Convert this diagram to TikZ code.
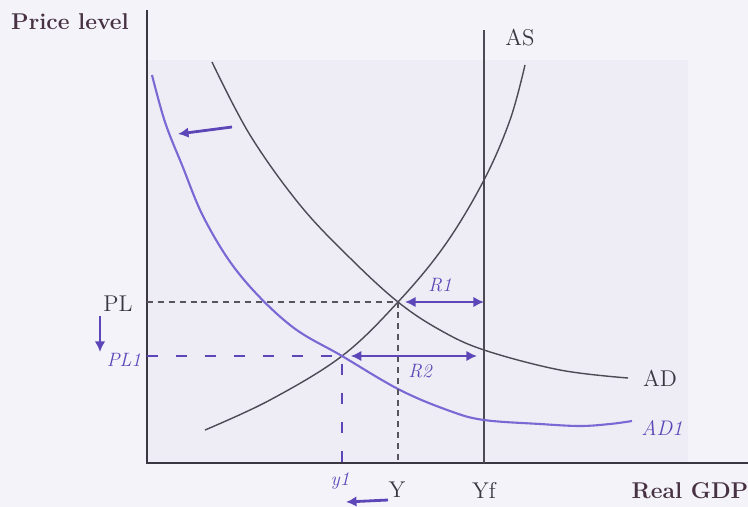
\documentclass[tikz,border=0pt]{standalone}
\usepackage{tikz}
\usetikzlibrary{positioning}
\usetikzlibrary{calc}
\usetikzlibrary{arrows.meta}
\definecolor{pen}{RGB}{92,70,184}
\definecolor{penlight}{RGB}{122,104,212}
\definecolor{ink}{RGB}{58,54,66}
\definecolor{paper}{RGB}{244,243,250}
\definecolor{plotbg}{RGB}{238,237,245}

\begin{document}
\begin{tikzpicture}[x=0.02cm, y=-0.02cm,
    every node/.style={font=\fontsize{13}{15}\selectfont, text=ink, inner sep=1pt},
    title/.style={font=\bfseries\fontsize{13}{15}\selectfont, text=ink!90!purple},
    axis/.style={draw=ink, line width=1.4pt},
    curve/.style={draw=ink!90, line width=0.8pt},
    guide/.style={draw=ink!85, line width=0.7pt, dash pattern=on 3.4pt off 2.8pt},
    penguide/.style={draw=pen, line width=1.5pt, dash pattern=on 6.5pt off 10pt},
    hand/.style={font=\itshape\fontsize{11}{13}\selectfont, text=pen},
    penline/.style={draw=pen, line width=1.6pt},
    pentip/.style={penline, -{Latex[length=6pt,width=6pt]}},
    pentwo/.style={penline, {Latex[length=6pt,width=6pt]}-{Latex[length=6pt,width=6pt]}}]

    % paper and plot area
    \fill[paper] (0,0) rectangle (748,507);
    \fill[plotbg] (147,60) rectangle (688,463);
    \useasboundingbox (0,0) rectangle (748,507);

    % axes
    \coordinate (origin) at (147,463);
    \coordinate (ytop) at (147,10);
    \coordinate (xend) at (748,463);
    \coordinate (yftop) at (484,30);
    \coordinate (yfbot) at (484,463);
    \draw[axis] (ytop) -- (origin) -- (xend);
    \draw[curve] (yftop) -- (yfbot);

    % equilibria
    \coordinate (E) at (398,302);
    \coordinate (E1) at (342,356);

    % AS, AD and the new AD
    \draw[curve] plot[smooth, tension=0.6] coordinates {(205,430) (270,400) (342,356) (398,302) (445,245) (484,180) (510,120) (525,65)};
    \draw[curve] plot[smooth, tension=0.6] coordinates {(212,62) (250,135) (300,205) (350,258) (398,302) (440,330) (484,350) (560,370) (628,378)};
    \draw[penlight, line width=1.2pt] plot[smooth, tension=0.6] coordinates {(152,75) (165,122) (182,165) (205,220) (240,275) (290,325) (342,356) (400,390) (450,411) (484,420) (540,424) (580,426) (610,424) (632,421)};

    % guides to the axes
    \draw[guide] (origin |- E) -- (E) -- (E |- origin);
    \draw[penguide] (origin |- E1) -- (E1) -- (E1 |- origin);

    % labels
    \node[title] (plabel) at (70,22) {Price level};
    \node[title] (glabel) at (690,491) {Real GDP};
    \node (aslabel) at (520,38) {AS};
    \node (adlabel) at (660,378) {AD};
    \node (pllabel) at (118,304) {PL};
    \node (ylabel) at (397,490) {Y};
    \node (yflabel) at (484,490) {Yf};
    \node[hand, font=\itshape\fontsize{12}{14}\selectfont] (ad1label) at (662,428) {AD1};
    \node[hand] (pl1label) at (124,360) {PL1};
    \node[hand] (y1label) at (340,481) {y1};
    \node[hand] (r1label) at (440,285) {R1};
    \node[hand] (r2label) at (420,371) {R2};

    % gaps to full employment
    \draw[pentwo] ([xshift=4pt]E) -- (E -| yfbot);
    \draw[pentwo] ([xshift=5pt]E1) -- ([xshift=-4pt]E1 -| yfbot);

    % shifts
    \coordinate (adfrom) at (232,127);
    \coordinate (adto) at (178,134);
    \coordinate (plfrom) at (100,316);
    \coordinate (plto) at (100,352);
    \coordinate (yfrom) at (388,500);
    \coordinate (yto) at (346,502);
    \draw[pentip] (adfrom) -- (adto);
    \draw[pentip] (plfrom) -- (plto);
    \draw[pentip] (yfrom) -- (yto);
\end{tikzpicture}
\end{document}
